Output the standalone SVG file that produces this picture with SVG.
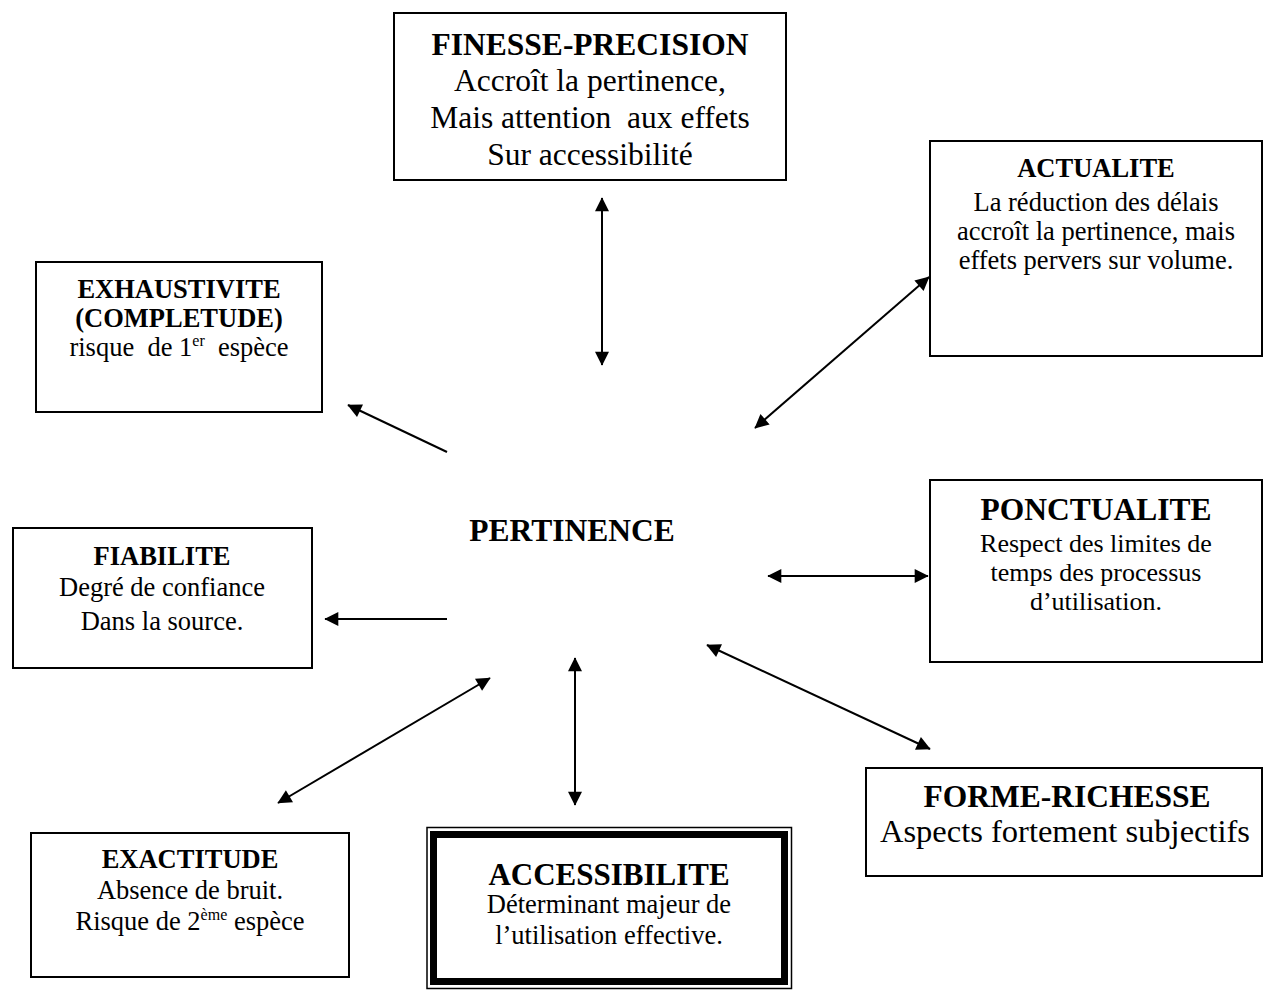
<svg xmlns="http://www.w3.org/2000/svg" width="1264" height="990" viewBox="0 0 1264 990">
<style>
  .box { fill: #fff; stroke: #000; stroke-width: 2; }
  text { font-family: "Liberation Serif", "Times New Roman", serif; fill: #000; text-anchor: middle; white-space: pre; }
  .t { font-weight: bold; font-size: 26.5px; }
  .b { font-size: 26.5px; }
  .T { font-weight: bold; font-size: 31.5px; }
  .B { font-size: 31.5px; }
  .sup { font-size: 16px; }
  .conn line { stroke: #000; stroke-width: 2; fill: none; }
  .end { marker-end: url(#ah); }
  .both { marker-start: url(#ah); marker-end: url(#ah); }
</style>
<defs>
  <marker id="ah" viewBox="0 0 10 10" refX="9.5" refY="5" markerUnits="userSpaceOnUse" markerWidth="15" markerHeight="14" orient="auto-start-reverse">
    <path d="M0,0 L10,5 L0,10 z" fill="#000"/>
  </marker>
</defs>
<rect width="1264" height="990" fill="#fff"/>

<g id="finesse">
  <rect class="box" x="394" y="13" width="392" height="167"/>
  <text class="T" x="590" y="55">FINESSE-PRECISION</text>
  <text class="B" x="590" y="91">Accroît la pertinence,</text>
  <text class="B" x="590" y="128">Mais attention  aux effets</text>
  <text class="B" x="590" y="165">Sur accessibilité</text>
</g>

<g id="actualite">
  <rect class="box" x="930" y="141" width="332" height="215"/>
  <text class="t" x="1096" y="177">ACTUALITE</text>
  <text class="b" x="1096" y="211">La réduction des délais</text>
  <text class="b" x="1096" y="240">accroît la pertinence, mais</text>
  <text class="b" x="1096" y="269">effets pervers sur volume.</text>
</g>

<g id="exhaustivite">
  <rect class="box" x="36" y="262" width="286" height="150"/>
  <text class="t" x="179" y="298">EXHAUSTIVITE</text>
  <text class="t" x="179" y="327">(COMPLETUDE)</text>
  <text class="b" x="179" y="356">risque  de 1<tspan class="sup" dy="-10">er</tspan><tspan dy="10">  espèce</tspan></text>
</g>

<g id="pertinence">
  <text class="T" x="572" y="541">PERTINENCE</text>
</g>

<g id="fiabilite">
  <rect class="box" x="13" y="528" width="299" height="140"/>
  <text class="t" x="162" y="565">FIABILITE</text>
  <text class="b" x="162" y="596">Degré de confiance</text>
  <text class="b" x="162" y="630">Dans la source.</text>
</g>

<g id="ponctualite">
  <rect class="box" x="930" y="480" width="332" height="182"/>
  <text class="T" x="1096" y="520">PONCTUALITE</text>
  <text class="b" x="1096" y="552" style="font-size:26px">Respect des limites de</text>
  <text class="b" x="1096" y="581" style="font-size:26px">temps des processus</text>
  <text class="b" x="1096" y="610" style="font-size:26px">d’utilisation.</text>
</g>

<g id="forme">
  <rect class="box" x="866" y="768" width="396" height="108"/>
  <text class="T" x="1067" y="807">FORME-RICHESSE</text>
  <text class="B" x="1065" y="842" style="font-size:32.5px">Aspects fortement subjectifs</text>
</g>

<g id="accessibilite">
  <rect x="427" y="827.5" width="364.5" height="161" fill="#fff" stroke="#000" stroke-width="1.5"/>
  <rect x="433.5" y="834.5" width="351" height="147" fill="none" stroke="#000" stroke-width="7"/>
  <text class="T" x="609" y="885" style="font-size:31px">ACCESSIBILITE</text>
  <text class="b" x="609" y="913">Déterminant majeur de</text>
  <text class="b" x="609" y="944">l’utilisation effective.</text>
</g>

<g id="exactitude">
  <rect class="box" x="31" y="833" width="318" height="144"/>
  <text class="t" x="190" y="868">EXACTITUDE</text>
  <text class="b" x="190" y="899">Absence de bruit.</text>
  <text class="b" x="190" y="930">Risque de 2<tspan class="sup" dy="-10">ème</tspan><tspan dy="10"> espèce</tspan></text>
</g>

<g id="connectors" class="conn">
  <line class="both" x1="602" y1="198" x2="602" y2="365"/>
  <line class="both" x1="755" y1="428" x2="929" y2="277"/>
  <line class="end" x1="447" y1="452" x2="348" y2="405"/>
  <line class="end" x1="447" y1="619" x2="325" y2="619"/>
  <line class="both" x1="768" y1="576" x2="928" y2="576"/>
  <line class="both" x1="707" y1="645" x2="930" y2="749"/>
  <line class="both" x1="575" y1="658" x2="575" y2="805"/>
  <line class="both" x1="278" y1="803" x2="490" y2="678"/>
</g>
</svg>
